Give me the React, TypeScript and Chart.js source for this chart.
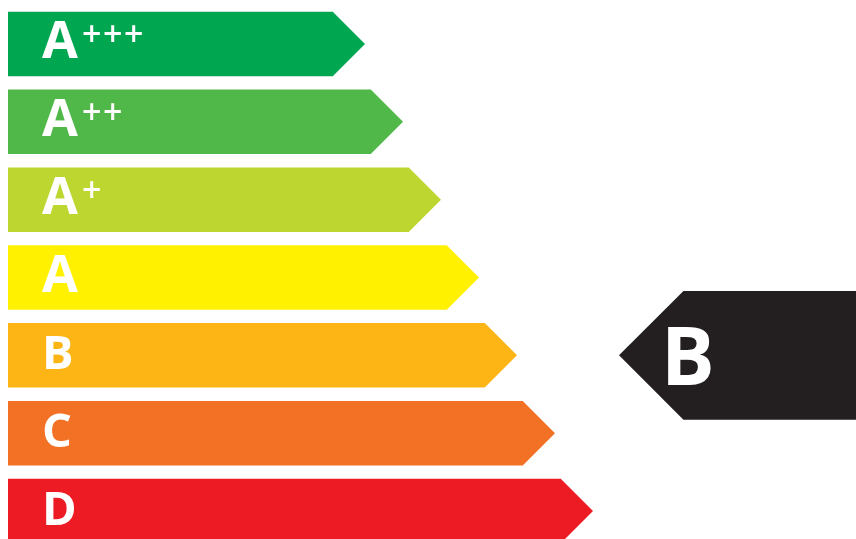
import React, { useEffect, useRef } from "react";
import { Chart, registerables } from "chart.js";

Chart.register(...registerables);

const categories = ["A+++", "A++", "A+", "A", "B", "C", "D"];
const baseLetters = ["A", "A", "A", "A", "B", "C", "D"];
const superscripts = ["+++", "++", "+", "", "", "", ""];
const barLengths = [357, 395, 433, 471, 509, 547, 585];
const barColors = ["#00A650", "#50B848", "#BED630", "#FFF100", "#FDB515", "#F37124", "#ED1C24"];
const ratedClass = "B";
const indicatorStart = 611;
const axisMax = 848;
const indicatorColor = "#231F20";

const FONT = '"Open Sans", "DejaVu Sans", sans-serif';

const arrowPlugin = {
  id: "arrowBars",
  beforeDatasetDraw(chart: any, args: any) {
    const ctx = chart.ctx;
    const meta = args.meta;
    const xScale = chart.scales.x;
    const yScale = chart.scales.y;
    ctx.save();
    meta.data.forEach((el: any, i: number) => {
      const p = el.getProps(["x", "y", "base", "height"], true);
      const half = p.height / 2;
      ctx.beginPath();
      ctx.moveTo(p.base, p.y - half);
      ctx.lineTo(p.x - half, p.y - half);
      ctx.lineTo(p.x, p.y);
      ctx.lineTo(p.x - half, p.y + half);
      ctx.lineTo(p.base, p.y + half);
      ctx.closePath();
      ctx.fillStyle = barColors[i];
      ctx.fill();

      ctx.fillStyle = "#FFFFFF";
      ctx.textBaseline = "alphabetic";
      ctx.textAlign = "left";
      const isA = baseLetters[i] === "A";
      ctx.font = `bold ${isA ? 52 : 47}px ${FONT}`;
      ctx.fillText(baseLetters[i], p.base + 34, p.y + 14);
      const sup = superscripts[i];
      if (sup) {
        ctx.font = `600 34px ${FONT}`;
        for (let k = 0; k < sup.length; k++) {
          ctx.fillText(sup[k], p.base + 74 + k * 21, p.y + 2);
        }
      }
    });

    // rating indicator
    const idx = categories.indexOf(ratedClass);
    const el = meta.data[idx];
    const th = el.getProps(["height"], true).height;
    const yc = yScale.getPixelForValue(idx);
    const xTip = xScale.getPixelForValue(indicatorStart);
    const right = chart.width + 10;
    ctx.beginPath();
    ctx.moveTo(xTip, yc);
    ctx.lineTo(xTip + th, yc - th);
    ctx.lineTo(right, yc - th);
    ctx.lineTo(right, yc + th);
    ctx.lineTo(xTip + th, yc + th);
    ctx.closePath();
    ctx.fillStyle = indicatorColor;
    ctx.fill();
    ctx.fillStyle = "#FFFFFF";
    ctx.font = `bold 80px ${FONT}`;
    ctx.textBaseline = "alphabetic";
    ctx.fillText(ratedClass, xTip + 42, yc + 29.5);
    ctx.restore();
    return false;
  },
};

export default function App() {
  const ref = useRef<HTMLCanvasElement | null>(null);
  useEffect(() => {
    if (!ref.current) return;
    const chart = new Chart(ref.current, {
      type: "bar",
      data: {
        labels: categories,
        datasets: [
          {
            data: barLengths,
            backgroundColor: barColors,
            barPercentage: 0.828,
            categoryPercentage: 1,
          },
        ],
      },
      options: {
        indexAxis: "y",
        responsive: true,
        maintainAspectRatio: false,
        animation: false,
        layout: { padding: { left: 8, right: 0, top: 5, bottom: 2 } },
        scales: {
          x: { display: false, min: 0, max: axisMax },
          y: { display: false },
        },
        plugins: { legend: { display: false }, tooltip: { enabled: false } },
      },
      plugins: [arrowPlugin],
    } as any);
    return () => chart.destroy();
  }, []);
  return (
    <div
      style={{
        position: "fixed",
        left: 0,
        top: 0,
        width: 856,
        height: 552,
        background: "#FFFFFF",
      }}
    >
      <canvas ref={ref} />
    </div>
  );
}
